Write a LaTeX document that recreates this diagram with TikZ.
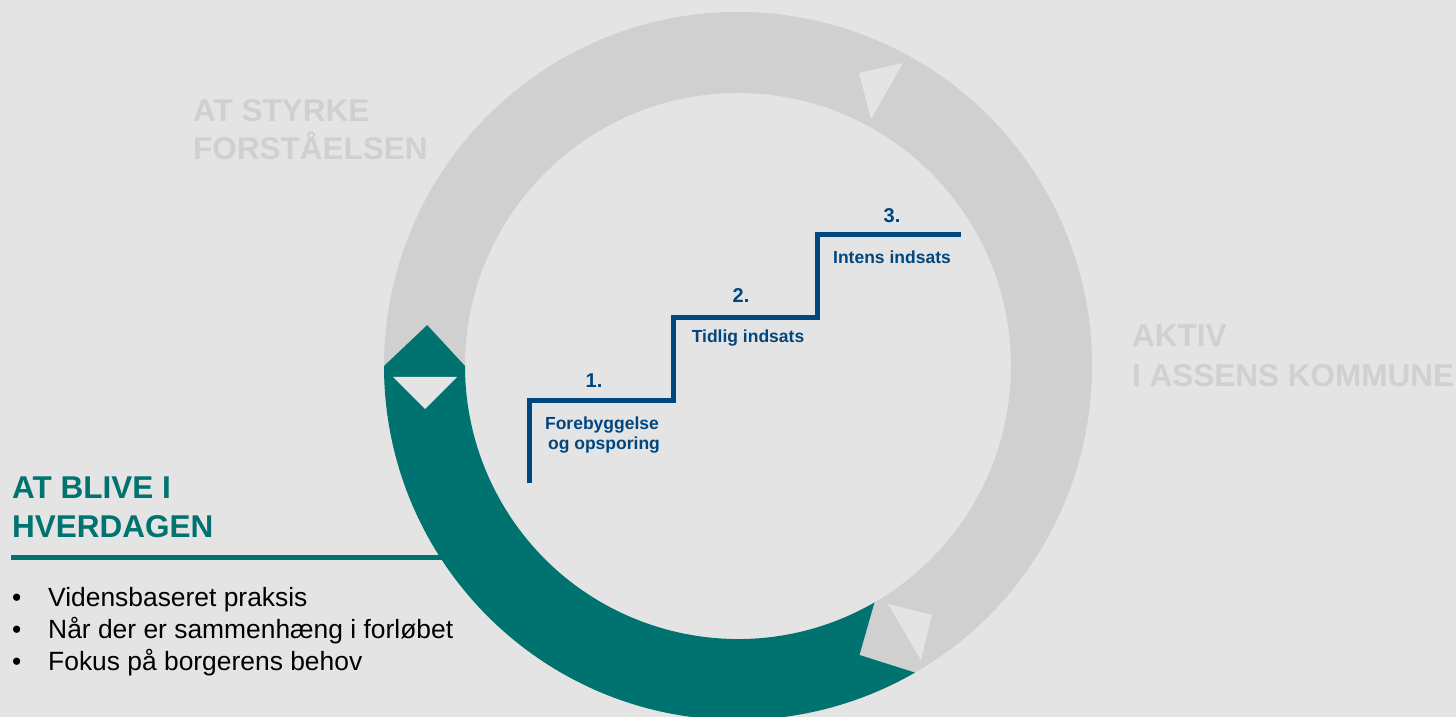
\documentclass[tikz,border=0pt]{standalone}
\usepackage{fontspec}
\setmainfont{Liberation Sans}
\definecolor{bg}{RGB}{228,228,228}
\definecolor{ringgray}{RGB}{208,208,208}
\definecolor{tealc}{RGB}{0,114,111}
\definecolor{navy}{RGB}{0,70,127}
\begin{document}
\begin{tikzpicture}[x=1pt,y=1pt,
  head/.style={font=\fontsize{31.5}{38}\selectfont\bfseries, inner sep=0pt, anchor=base west},
  bul/.style={font=\fontsize{26.4}{31}\selectfont, inner sep=0pt, anchor=base west, text=black},
  num/.style={font=\fontsize{20}{24}\selectfont\bfseries, inner sep=0pt, anchor=base, text=navy},
  lab/.style={font=\fontsize{17.5}{20.5}\selectfont\bfseries, inner sep=0pt, anchor=base, text=navy, align=center},
  tri/.style={fill=bg}]
\useasboundingbox (0,0) rectangle (1456,717);
\clip (0,0) rectangle (1456,717);
\fill[bg] (0,0) rectangle (1456,717);
% rule under heading
\coordinate (r0) at (11,159);
\coordinate (r1) at (446,159);
\draw[tealc, line width=5pt] (r0) -- (r1);
% ring
\begin{scope}[shift={(738,351)}]
  \fill[ringgray] (-60:354) arc[start angle=-60,end angle=180,radius=354]
     -- (172.5:313.5) -- (180:273) arc[start angle=180,end angle=-60,radius=273]
     -- (-67.2:313.5) -- cycle;
  \fill[tealc] (180:354) arc[start angle=180,end angle=300,radius=354]
     -- (292.8:313.5) -- (300:273) arc[start angle=300,end angle=180,radius=273]
     -- (172.5:313.5) -- cycle;
\end{scope}
% white triangles
\fill[tri] (393,340) -- (457,340) -- (425,308) -- cycle;
\fill[tri] (859,644) -- (903,654) -- (871,598) -- cycle;
\fill[tri] (888,113) -- (932,102) -- (921,57) -- cycle;
% headings
\node[head, text=ringgray] (h1a) at (193,595) {AT STYRKE};
\node[head, text=ringgray] (h1b) at (193,557) {FORSTÅELSEN};
\node[head, text=ringgray] (h2a) at (1132,370) {AKTIV};
\node[head, text=ringgray] (h2b) at (1132,330) {I ASSENS KOMMUNE};
\node[head, text=tealc] (h3a) at (12,218) {AT BLIVE I};
\node[head, text=tealc] (h3b) at (12,179) {HVERDAGEN};
% bullets
\node[bul] (b1) at (12,110) {•};
\node[bul] (b2) at (12,78) {•};
\node[bul] (b3) at (12,46) {•};
\node[bul] (t1) at (48,110) {Vidensbaseret praksis};
\node[bul] (t2) at (48,78) {Når der er sammenhæng i forløbet};
\node[bul] (t3) at (48,46) {Fokus på borgerens behov};
% stairs
\coordinate (s0) at (529,234);
\coordinate (s1) at (529,316.3);
\coordinate (s2) at (673,316.3);
\coordinate (s3) at (673,399.5);
\coordinate (s4) at (817,399.5);
\coordinate (s5) at (817,482.3);
\coordinate (s6) at (961,482.3);
\draw[navy, line width=5pt] (s0) -- (s1) -- (s2) -- (s3) -- (s4) -- (s5) -- (s6);
\node[num] (n1) at (594,329) {1.};
\node[num] (n2) at (741,414) {2.};
\node[num] (n3) at (892,494) {3.};
\node[lab] (l1a) at (602,287) {Forebyggelse};
\node[lab] (l1b) at (604,267) {og opsporing};
\node[lab] (l2) at (748,374) {Tidlig indsats};
\node[lab] (l3) at (892,453) {Intens indsats};
\end{tikzpicture}
\end{document}
